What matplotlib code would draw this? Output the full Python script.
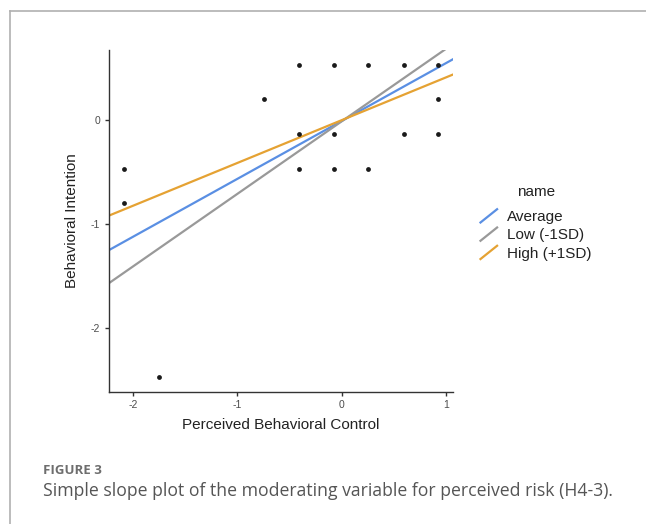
import matplotlib
matplotlib.use("Agg")
import matplotlib.pyplot as plt
from matplotlib.lines import Line2D
from matplotlib.legend_handler import HandlerBase

# observed points (Perceived Behavioral Control vs Behavioral Intention)
pbc = [-2.085, -2.085, -1.753, -0.744, -0.406, -0.406, -0.406, -0.077, -0.077,
       -0.077, 0.255, 0.255, 0.594, 0.594, 0.919, 0.919, 0.919]
bi = [-0.470, -0.797, -2.472, 0.205, 0.536, -0.132, -0.470, 0.536, -0.132,
      -0.470, 0.536, -0.470, 0.536, -0.132, 0.536, 0.205, -0.132]

# simple slope lines, endpoints
line_x = [-2.23, 1.07]
avg_y = [-1.253, 0.591]
low_y = [-1.572, 0.739]
high_y = [-0.920, 0.443]
series_names = ["Average", "Low (-1SD)", "High (+1SD)"]
series_colors = ["#5a8fe3", "#999999", "#e5a233"]

x_ticks = [-2, -1, 0, 1]
y_ticks = [0, -1, -2]


class DiagHandler(HandlerBase):
    # ggplot-style slanted legend key
    def create_artists(self, legend, orig_handle, xdescent, ydescent,
                       width, height, fontsize, trans):
        x0, y0 = -xdescent, -ydescent
        ln = Line2D([x0, x0 + width], [y0, y0 + height],
                    color=orig_handle.get_color(), lw=orig_handle.get_linewidth(),
                    solid_capstyle="butt", transform=trans)
        return [ln]


plt.rcParams["font.family"] = ["Liberation Sans", "DejaVu Sans"]
plt.rcParams["axes.unicode_minus"] = False

fig = plt.figure(figsize=(6.46, 5.24), dpi=100)
ax = fig.add_axes([0.1683, 0.2525, 0.5329, 0.6521])

handles = []
for ys, name, col in zip([avg_y, low_y, high_y], series_names, series_colors):
    h, = ax.plot(line_x, ys, color=col, lw=1.6, label=name, zorder=2)
    handles.append(h)
ax.scatter(pbc, bi, s=12, color="#1a1a1a", zorder=3, linewidths=0)

ax.set_xlim(-2.23, 1.066)
ax.set_ylim(-2.617, 0.678)
ax.set_xticks(x_ticks)
ax.set_yticks(y_ticks)
ax.tick_params(labelsize=7.5, labelcolor="#4d4d4d", color="#333333",
               length=3, width=1, pad=3)
for side in ["top", "right"]:
    ax.spines[side].set_visible(False)
for side in ["left", "bottom"]:
    ax.spines[side].set_color("#333333")
    ax.spines[side].set_linewidth(1)

ax.set_xlabel("Perceived Behavioral Control", fontsize=11, color="#222222", labelpad=6)
ax.set_ylabel("Behavioral Intention", fontsize=11, color="#222222", labelpad=9)

leg = fig.legend(handles=handles, labels=series_names, title="name",
                 handler_map={Line2D: DiagHandler()},
                 loc="upper left", bbox_to_anchor=(0.733, 0.659),
                 frameon=False, fontsize=11, title_fontsize=11,
                 handlelength=1.2, handleheight=1.1, handletextpad=0.6,
                 labelspacing=0.18, borderaxespad=0)
leg._legend_box.sep = 7  # gap between title and keys
for t in leg.get_texts():
    t.set_color("#222222")
leg.get_title().set_color("#222222")

# card border
fig.add_artist(Line2D([9.5 / 646, 9.5 / 646], [0, 1 - 11 / 524],
                      color="#b0b0b0", lw=1.2, transform=fig.transFigure))
fig.add_artist(Line2D([9.5 / 646, 1], [1 - 11 / 524, 1 - 11 / 524],
                      color="#b0b0b0", lw=1.2, transform=fig.transFigure))

fig.text(43 / 646, 1 - 470 / 524, "FIGURE 3", fontsize=9.5, color="#6e6e6e",
         weight="bold", family=["Open Sans", "DejaVu Sans"], va="center", ha="left")
fig.text(43 / 646, 1 - 491 / 524,
         "Simple slope plot of the moderating variable for perceived risk (H4-3).",
         fontsize=12.7, color="#555555", family=["Open Sans", "DejaVu Sans"],
         va="center", ha="left")

fig.savefig("out.png", dpi=100)
